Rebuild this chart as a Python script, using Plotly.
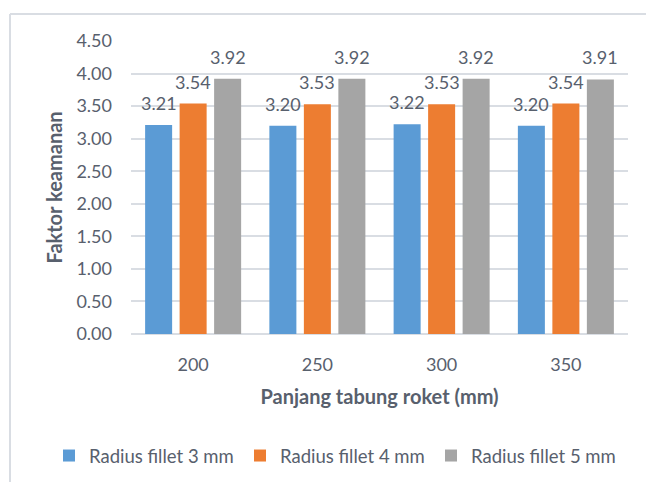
import plotly.graph_objects as go

categories = ["200", "250", "300", "350"]
series_names = ["Radius fillet 3 mm", "Radius fillet 4 mm", "Radius fillet 5 mm"]
r3 = [3.21, 3.20, 3.22, 3.20]
r4 = [3.54, 3.53, 3.53, 3.54]
r5 = [3.92, 3.92, 3.92, 3.91]
y_ticks = [0, 0.5, 1.0, 1.5, 2.0, 2.5, 3.0, 3.5, 4.0, 4.5]

colors = ["#5B9BD5", "#ED7D31", "#A5A5A5"]
text_color = "#58606d"
grid_color = "#d9dde3"
FONT = "Lato"

fig = go.Figure()
all_series = [r3, r4, r5]
for name, vals, col in zip(series_names, all_series, colors):
    fig.add_trace(go.Bar(x=categories, y=vals, name=name,
                         marker=dict(color=col, line=dict(width=0))))

annotations = []
for i, vals in enumerate(all_series):
    for ci, v in enumerate(vals):
        annotations.append(dict(x=ci, y=v, xref="x", yref="y", text=f"{v:.2f}",
                                showarrow=False, xshift=(i - 1) * 34.5, yshift=22,
                                yanchor="middle", xanchor="center",
                                font=dict(family=FONT, size=18, color=text_color)))

L, R, T, B = 131, 18, 41, 148
W, H = 646, 482
pw, ph = W - L - R, H - T - B
def px(x): return (x - L) / pw
def py(y): return (H - B - y) / ph

shapes = [
    dict(type="line", xref="paper", yref="paper", x0=px(10), x1=px(660), y0=py(14), y1=py(14),
         line=dict(color="#d9dde3", width=2)),
    dict(type="line", xref="paper", yref="paper", x0=px(10), x1=px(10), y0=py(14), y1=py(500),
         line=dict(color="#d9dde3", width=2)),
]

fig.update_layout(
    width=W, height=H,
    margin=dict(l=L, r=R, t=T, b=B, autoexpand=False),
    paper_bgcolor="white", plot_bgcolor="white",
    barmode="group", bargap=0.167, bargroupgap=0.217,
    font=dict(family=FONT, color=text_color),
    annotations=annotations, shapes=shapes,
    legend=dict(orientation="h", x=px(49), xanchor="left", y=py(456), yanchor="middle",
                font=dict(family=FONT, size=18.5, color=text_color),
                itemwidth=30, entrywidth=146, entrywidthmode="pixels",
                traceorder="normal", bgcolor="rgba(0,0,0,0)"),
    xaxis=dict(type="category", range=[-0.5, len(categories) - 0.5],
               title=dict(text="<b>Panjang tabung roket (mm)</b>",
                          font=dict(family=FONT, size=20, color=text_color), standoff=15),
               tickfont=dict(family=FONT, size=18, color=text_color),
               showgrid=False, showline=False, ticks="", ticklabelstandoff=18,
               automargin=False),
    yaxis=dict(title=dict(text="<b>Faktor keamanan</b>",
                          font=dict(family=FONT, size=20, color=text_color), standoff=8),
               range=[0, 4.5], tickvals=y_ticks, tickformat=".2f",
               tickfont=dict(family=FONT, size=18, color=text_color),
               showgrid=True, gridcolor=grid_color, gridwidth=1.5,
               zeroline=True, zerolinecolor=grid_color, zerolinewidth=1.5,
               showline=False, ticks="", ticklabelstandoff=18, automargin=False),
)

fig.write_html("out.html", config={"displayModeBar": False},
               post_script="document.body.style.margin='0';document.body.style.overflow='hidden';")
